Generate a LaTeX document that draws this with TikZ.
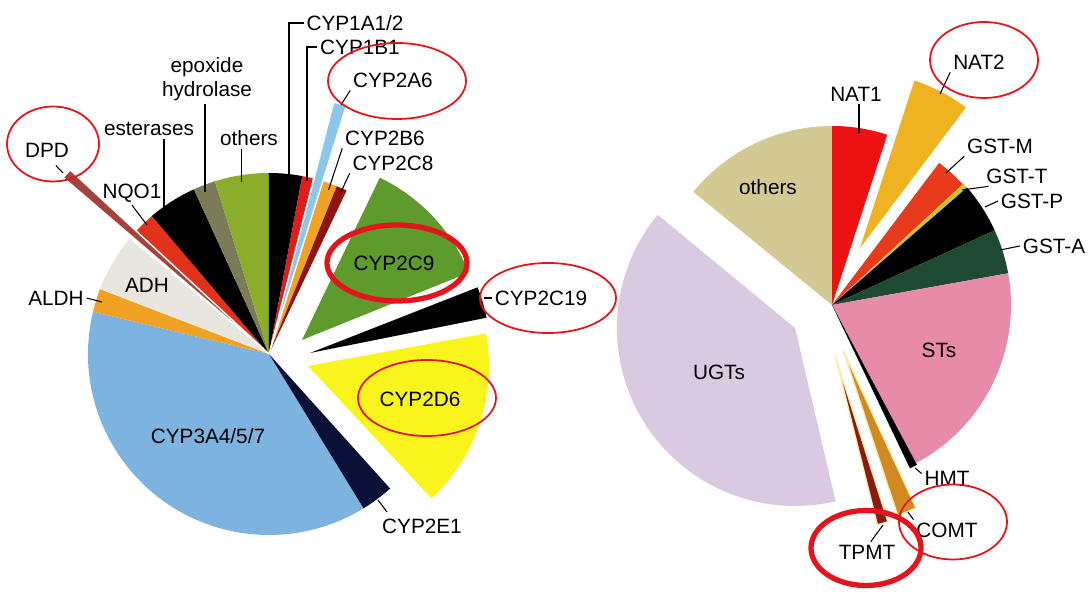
\documentclass[tikz,border=0pt]{standalone}
\usepackage{fontspec}
\setmainfont{Liberation Sans}
\usepackage{tikz}

\definecolor{cyp3a}{HTML}{7DB4DF}
\definecolor{cyp2e}{HTML}{0B1038}
\definecolor{cyp2d}{HTML}{F8F41C}
\definecolor{cyp2c}{HTML}{5E9A2C}
\definecolor{cyp2ce}{HTML}{8E1414}
\definecolor{cyp2b}{HTML}{F2A324}
\definecolor{cyp2a}{HTML}{8CC6EC}
\definecolor{cyp1b}{HTML}{E21B1B}
\definecolor{othgreen}{HTML}{8AAE2A}
\definecolor{epox}{HTML}{7B7B57}
\definecolor{nqo}{HTML}{E2321C}
\definecolor{dpd}{HTML}{A3433B}
\definecolor{adh}{HTML}{E9E6DF}
\definecolor{aldh}{HTML}{F1A223}
\definecolor{natone}{HTML}{EE1111}
\definecolor{nattwo}{HTML}{EFB322}
\definecolor{gstm}{HTML}{E83B1C}
\definecolor{gstt}{HTML}{C6C631}
\definecolor{gsta}{HTML}{1F4A32}
\definecolor{sts}{HTML}{E78BA8}
\definecolor{comt}{HTML}{D18A22}
\definecolor{tpmt}{HTML}{8B1A12}
\definecolor{ugt}{HTML}{D9CAE2}
\definecolor{othkhaki}{HTML}{D2CA92}
\definecolor{cream}{HTML}{F6EDB0}
\definecolor{ringred}{HTML}{E5131B}

\tikzset{
    lbl/.style={font=\fontsize{11.8}{13.5}\selectfont, inner sep=1.5pt},
    leader/.style={line width=0.6pt},
    ring/.style={draw=ringred, line width=1pt},
    ringthick/.style={draw=ringred, line width=3pt}
}

\begin{document}
\begin{tikzpicture}[scale=0.2]
    \useasboundingbox (0,0) rectangle (108.9,59.7);

    % Phase I pie
    \coordinate (c1) at (26.9,24.3);

    \fill[cyp3a] (c1) -- ++(166.5:18.1) arc[start angle=166.5, end angle=301.5, radius=18.1] -- cycle;
    \fill[cyp2e] (c1) -- ++(-58.5:18.1) arc[start angle=-58.5, end angle=-48, radius=18.1] -- cycle;
    \fill[aldh] (c1) -- ++(159:18.1) arc[start angle=159, end angle=166.5, radius=18.1] -- cycle;
    \fill[adh] (c1) -- ++(140.5:18.1) arc[start angle=140.5, end angle=159, radius=18.1] -- cycle;
    \fill[nqo] (c1) -- ++(130.3:18.1) arc[start angle=130.3, end angle=137, radius=18.1] -- cycle;
    \fill[black] (c1) -- ++(114.5:18.1) arc[start angle=114.5, end angle=130.3, radius=18.1] -- cycle;
    \fill[epox] (c1) -- ++(107.4:18.1) arc[start angle=107.4, end angle=114.5, radius=18.1] -- cycle;
    \fill[othgreen] (c1) -- ++(90:18.1) arc[start angle=90, end angle=107.4, radius=18.1] -- cycle;
    \fill[black] (c1) -- ++(79.4:18.1) arc[start angle=79.4, end angle=90, radius=18.1] -- cycle;
    \fill[cyp1b] (c1) -- ++(76:18.1) arc[start angle=76, end angle=79.4, radius=18.1] -- cycle;
    \fill[cyp2b] (c1) -- ++(68:18.1) arc[start angle=68, end angle=72.5, radius=18.1] -- cycle;
    \fill[cyp2ce] (c1) -- ++(64.6:18.1) arc[start angle=64.6, end angle=68, radius=18.1] -- cycle;

    % thin slices sticking out
    \filldraw[fill=dpd, draw=white, line width=0.8pt] (c1) -- ++(137.2:27.1) arc[start angle=137.2, end angle=139.4, radius=27.1] -- cycle;
    \filldraw[fill=cyp2a, draw=white, line width=0.8pt] (c1) -- ++(72.7:26) arc[start angle=72.7, end angle=75.6, radius=26] -- cycle;

    % pulled out slices
    \fill[cyp2c] (30.2,25.7) -- ++(22:18) arc[start angle=22, end angle=64.4, radius=18] -- cycle;
    \fill[black] (31,24.4) -- ++(11.3:18) arc[start angle=11.3, end angle=21.4, radius=18] -- cycle;
    \fill[cyp2d] (30.8,23.1) -- ++(-47:18.1) arc[start angle=-47, end angle=10.4, radius=18.1] -- cycle;

    % labels
    \node[lbl] (l1a) at (35.5,57.4) {CYP1A1/2};
    \node[lbl] (l1b) at (36,55) {CYP1B1};
    \node[lbl] (l2a) at (39.3,51.7) {CYP2A6};
    \node[lbl] (l2b) at (38.5,45.9) {CYP2B6};
    \node[lbl] (l2c8) at (39.3,43.4) {CYP2C8};
    \node[lbl, align=center] (lep) at (20.7,51.8) {epoxide\\hydrolase};
    \node[lbl] (les) at (14.9,46.8) {esterases};
    \node[lbl] (loth) at (24.9,45.9) {others};
    \node[lbl] (ldpd) at (4.7,44.7) {DPD};
    \node[lbl] (lnqo) at (13.2,40.4) {NQO1};
    \node[lbl] (ladh) at (14.7,31.2) {ADH};
    \node[lbl] (laldh) at (5.6,29.9) {ALDH};
    \node[lbl] (l2c9) at (39.4,33.4) {CYP2C9};
    \node[lbl] (l2c19) at (54.1,29.9) {CYP2C19};
    \node[lbl] (l2d) at (42,19.8) {CYP2D6};
    \node[lbl] (l3a) at (20.8,16.1) {CYP3A4/5/7};
    \node[lbl] (l2e) at (42.2,7.1) {CYP2E1};

    \coordinate (t1a) at (28.9,41.9);
    \coordinate (t1b) at (30.7,41.6);
    \coordinate (t2a) at (34.1,49.2);
    \coordinate (t2b) at (32.85,40.7);
    \coordinate (t2c8) at (34.1,40.5);
    \coordinate (tep) at (20.5,40.5);
    \coordinate (tes) at (16.4,38.7);
    \coordinate (toth) at (24.15,41.5);
    \coordinate (tdpd) at (6.3,42.4);
    \coordinate (tnqo) at (14.7,37.2);
    \coordinate (taldh) at (10.2,29.5);
    \coordinate (t2c19) at (48.4,29.9);
    \coordinate (t2e) at (37.8,9.7);
    \coordinate (e2e) at (38.7,8.5);

    \draw[leader] (t1a) |- (l1a.west);
    \draw[leader] (t1b) |- (l1b.west);
    \draw[leader] (t2a) -- (l2a.south west);
    \draw[leader] (t2b) -- (l2b.south west);
    \draw[leader] (t2c8) -- (l2c8.south west);
    \draw[leader] (tep) -- (tep |- lep.south);
    \draw[leader] (tes) -- (tes |- les.south);
    \draw[leader] (toth) -- (toth |- loth.south);
    \draw[leader, shorten >=1.5mm] (tdpd) -- (ldpd.-70);
    \draw[leader] (tnqo) -- (lnqo.south);
    \draw[leader] (taldh) -- (laldh.east);
    \draw[leader] (t2c19) -- (l2c19.west);
    \draw[leader] (t2e) -- (e2e);

    % rings
    \draw[ring] (5.3,45.3) ellipse [x radius=4.6, y radius=3.75];
    \draw[ring] (39.7,51.6) ellipse [x radius=6.9, y radius=3.8];
    \draw[ringthick] (39.7,33.4) ellipse [x radius=7, y radius=3.8];
    \draw[ring] (54.8,29.9) ellipse [x radius=6.8, y radius=3.5];
    \draw[ring] (42.7,19.9) ellipse [x radius=6.9, y radius=3.8];

    % Phase II pie
    \coordinate (c2) at (83.2,29.2);

    \fill[natone] (c2) -- ++(72:17.9) arc[start angle=72, end angle=90, radius=17.9] -- cycle;
    \fill[gstm] (c2) -- ++(42.7:17.8) arc[start angle=42.7, end angle=53, radius=17.8] -- cycle;
    \fill[gstt] (c2) -- ++(41:17.9) arc[start angle=41, end angle=42.7, radius=17.9] -- cycle;
    \fill[black] (c2) -- ++(24.7:17.9) arc[start angle=24.7, end angle=41, radius=17.9] -- cycle;
    \fill[gsta] (c2) -- ++(10.2:17.9) arc[start angle=10.2, end angle=24.7, radius=17.9] -- cycle;
    \fill[sts] (c2) -- ++(-62:17.9) arc[start angle=-62, end angle=10.2, radius=17.9] -- cycle;
    \fill[black] (c2) -- ++(-64.5:18.1) arc[start angle=-64.5, end angle=-62, radius=18.1] -- cycle;
    \fill[othkhaki] (c2) -- ++(90:17.9) arc[start angle=90, end angle=140.8, radius=17.9] -- cycle;

    % pulled out slices
    \fill[nattwo] (86,34.9) -- ++(53:17.6) arc[start angle=53, end angle=72, radius=17.6] -- cycle;
    \filldraw[fill=comt, draw=cream, line width=0.8pt] (84.3,24.7) -- ++(-71.7:17.4) arc[start angle=-71.7, end angle=-65.2, radius=17.4] -- cycle;
    \filldraw[fill=tpmt, draw=cream, line width=0.8pt] (83.5,24.2) -- ++(-76:17.5) arc[start angle=-76, end angle=-72.4, radius=17.5] -- cycle;
    \fill[ugt] (79.5,26.9) -- ++(140.5:17.8) arc[start angle=140.5, end angle=283.2, radius=17.8] -- cycle;

    % labels
    \node[lbl] (lnat1) at (85.6,50.3) {NAT1};
    \node[lbl] (lnat2) at (97.9,53.5) {NAT2};
    \node[lbl] (lgstm) at (100,45.1) {GST-M};
    \node[lbl] (lgstt) at (101.7,42.1) {GST-T};
    \node[lbl] (lgstp) at (103.2,39.6) {GST-P};
    \node[lbl] (lgsta) at (105.4,35.1) {GST-A};
    \node[lbl] (loth2) at (76.8,41) {others};
    \node[lbl] (lsts) at (93.9,24.7) {STs};
    \node[lbl] (lugt) at (71.9,22.5) {UGTs};
    \node[lbl] (lhmt) at (94.7,11.9) {HMT};
    \node[lbl] (lcomt) at (94.7,6.7) {COMT};
    \node[lbl] (ltpmt) at (86.7,4.5) {TPMT};

    \coordinate (tnat1) at (85.9,46.4);
    \coordinate (tnat2) at (94,50.3);
    \coordinate (tgstm) at (94.6,42.4);
    \coordinate (tgstt) at (96.2,40.7);
    \coordinate (tgstp) at (98.5,39);
    \coordinate (tgsta) at (100,34.7);
    \coordinate (thmt) at (91.5,12.9);
    \coordinate (tcomt) at (90.8,8.5);
    \coordinate (ttpmt) at (88.3,7.2);

    \draw[leader] (tnat1) -- (tnat1 |- lnat1.south);
    \draw[leader] (tnat2) -- (lnat2.south west);
    \draw[leader] (tgstm) -- (lgstm.south west);
    \draw[leader] (tgstt) -- (lgstt.200);
    \draw[leader] (tgstp) -- (lgstp.west);
    \draw[leader] (tgsta) -- (lgsta.west);
    \draw[leader] (thmt) -- (lhmt.170);
    \draw[leader] (tcomt) -- (lcomt.north west);
    \draw[leader] (ttpmt) -- (ltpmt.70);

    % rings
    \draw[ring] (98.4,53.7) ellipse [x radius=5.4, y radius=3.8];
    \draw[ring] (95.3,7.5) ellipse [x radius=5.4, y radius=3.75];
    \draw[ringthick] (86.6,4.9) ellipse [x radius=5.5, y radius=3.75];
\end{tikzpicture}
\end{document}
